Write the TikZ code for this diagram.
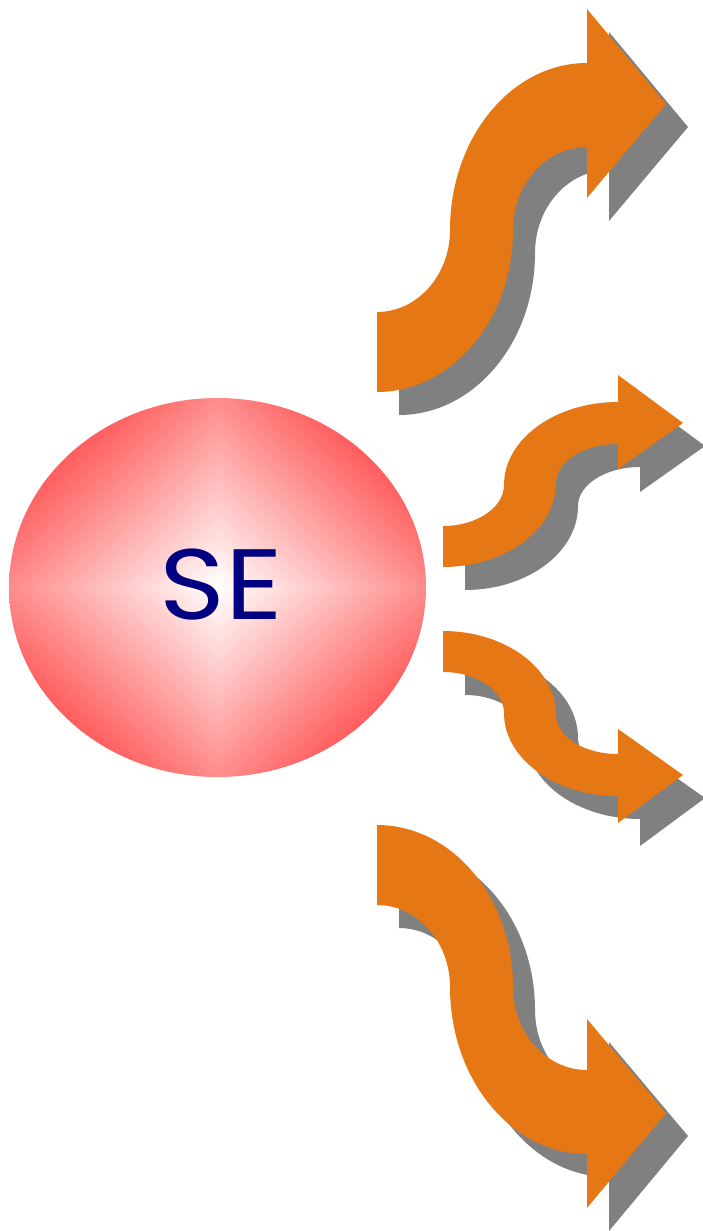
\documentclass[tikz,border=0pt]{standalone}
\usepackage{fontspec}
\newfontfamily\sefont[FakeStretch=1.12]{Poppins}
\usetikzlibrary{shapes.geometric}
\definecolor{arroworange}{RGB}{229,120,20}
\definecolor{shadowgray}{RGB}{128,128,128}
\definecolor{senavy}{RGB}{0,0,128}
\pgfdeclarefunctionalshading{sediamond}{\pgfpoint{-50bp}{-50bp}}{\pgfpoint{50bp}{50bp}}{}{
  abs exch abs add 25 div dup 1.45 gt {pop 1.45} if 0.45 mul 1 exch sub dup 1 3 1 roll
}
\begin{document}
\begin{tikzpicture}[x=1pt,y=-1pt,
  shadowfill/.style={fill=shadowgray, shift={(22,23)}},
  arrowfill/.style={fill=arroworange}]
\useasboundingbox (0,0) rectangle (703,1231);

\foreach \sty in {shadowfill, arrowfill} {
  % arrow 1 (top)
  \fill[\sty] (377,312) .. controls (417.3,312) and (450,275.3) .. (450,230)
    .. controls (450,137.8) and (511.4,63) .. (587,63)
    -- (587,9) -- (666,104) -- (587,198) -- (587,147)
    .. controls (546.1,147) and (513,184.2) .. (513,230)
    .. controls (513,319.4) and (452.1,392) .. (377,392) -- cycle;
  % arrow 2
  \fill[\sty] (443,526) .. controls (476.7,526) and (504,507.6) .. (504,485)
    .. controls (504,439.2) and (555.1,402) .. (618,402)
    -- (618,375) -- (683,423) -- (618,469) -- (618,444)
    .. controls (583.8,444) and (556,461.5) .. (556,483)
    .. controls (556,529.4) and (505.4,567) .. (443,567) -- cycle;
  % arrow 3
  \fill[\sty] (443,672) .. controls (476.7,672) and (504,690.4) .. (504,713)
    .. controls (504,758.8) and (555.1,796) .. (618,796)
    -- (618,823) -- (683,775) -- (618,729) -- (618,754)
    .. controls (583.8,754) and (556,736.5) .. (556,715)
    .. controls (556,668.6) and (505.4,631) .. (443,631) -- cycle;
  % arrow 4 (bottom)
  \fill[\sty] (377,905) .. controls (417.3,905) and (450,941.7) .. (450,987)
    .. controls (450,1079.2) and (511.4,1154) .. (587,1154)
    -- (587,1208) -- (666,1113) -- (587,1019) -- (587,1070)
    .. controls (546.1,1070) and (513,1032.8) .. (513,987)
    .. controls (513,897.6) and (452.1,825) .. (377,825) -- cycle;
}

\node[ellipse, shade, shading=sediamond, minimum width=417pt, minimum height=379pt, inner sep=0pt] (se) at (217.5,587.5) {};
\node[font=\sefont\fontsize{100}{100}\selectfont, text=senavy, inner sep=0pt] (setext) at (221.5,585) {SE};
\end{tikzpicture}
\end{document}
